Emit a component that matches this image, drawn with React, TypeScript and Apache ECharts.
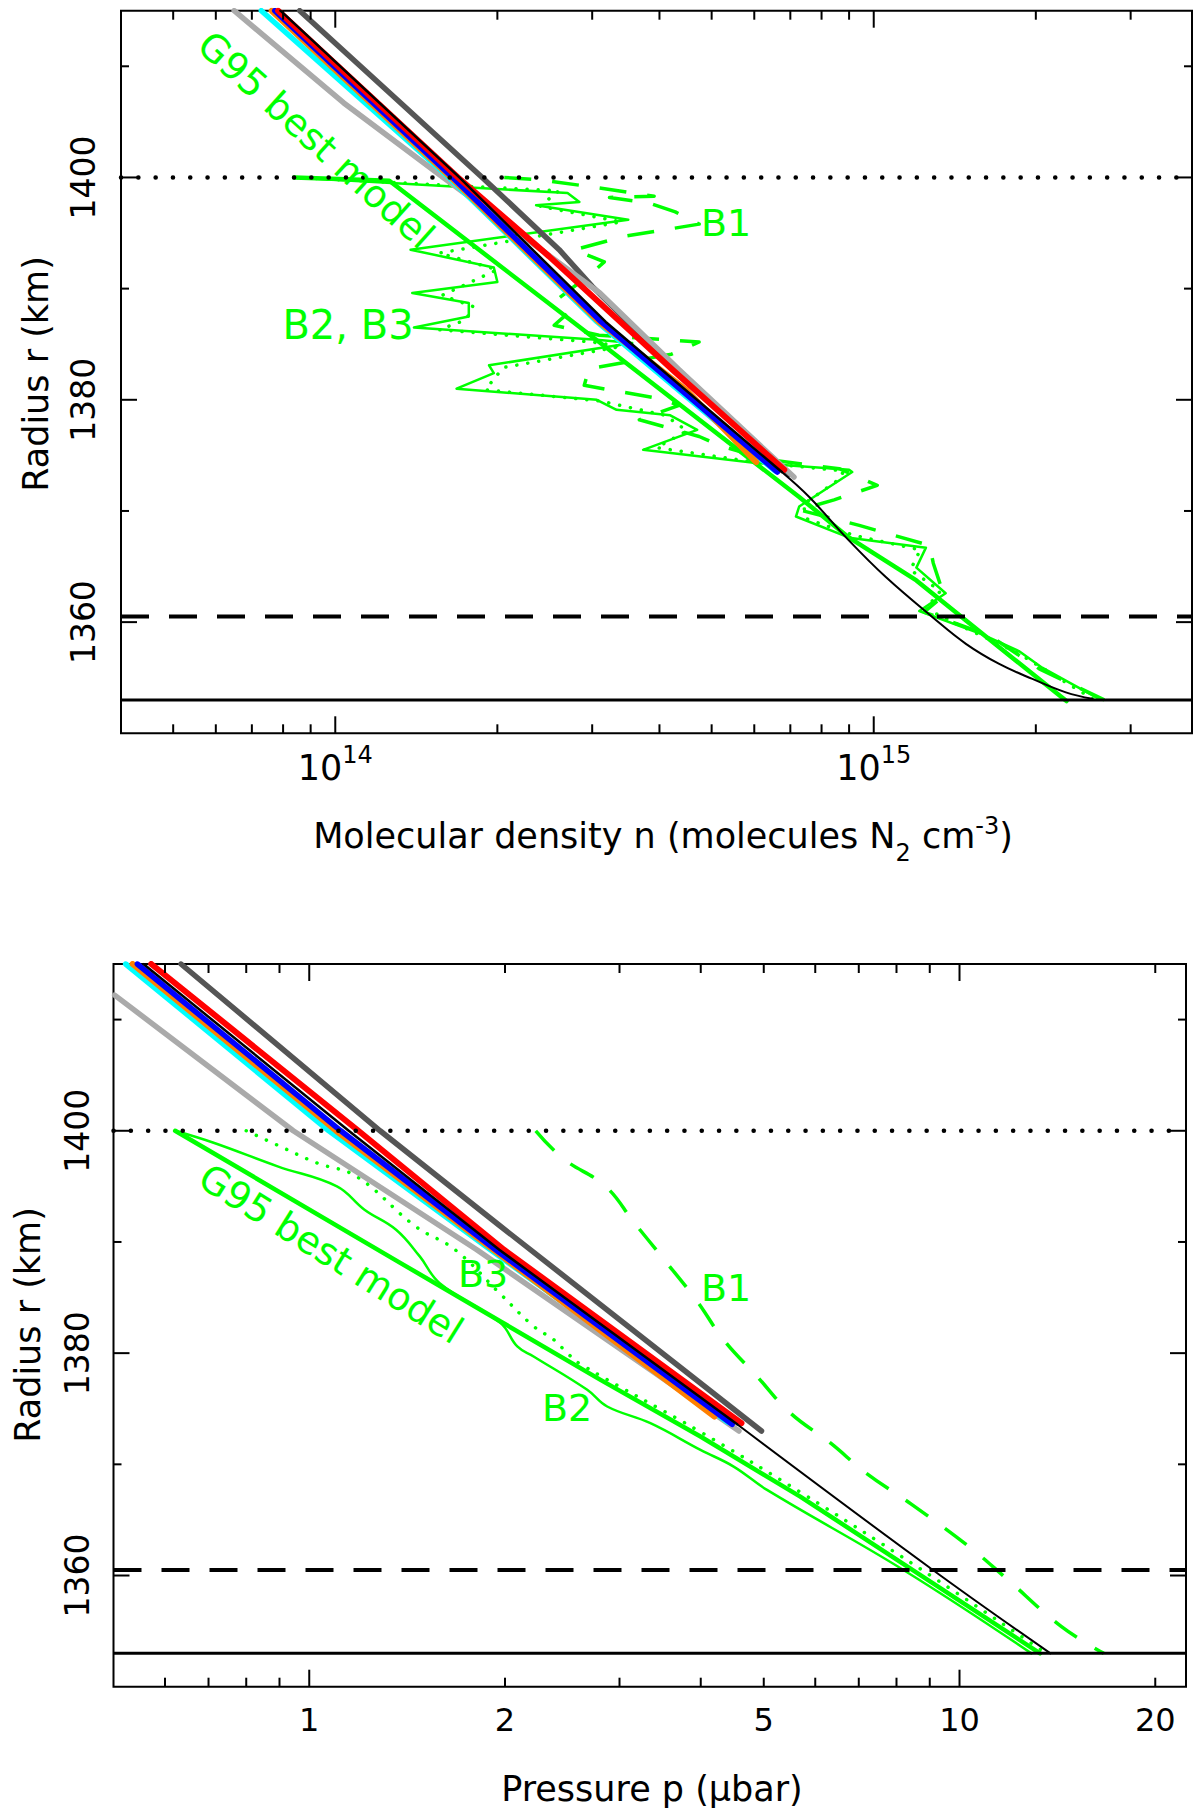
import { useEffect, useRef } from "react";
import * as echarts from "echarts";

const FONT = "DejaVu Sans";
const GREEN = "#00ff00";

// upper panel: molecular density n (molecules N2 cm^-3) against radius r (km)
const densityRange = [4e13, 3.9e15];
const densityMajorTicks = [1e14, 1e15];
const densityMinorTicks = [5e13, 6e13, 7e13, 8e13, 9e13, 2e14, 3e14, 4e14, 5e14, 6e14, 7e14, 8e14, 9e14, 2e15, 3e15];
const densityLabels = [1e14, 1e15];

// lower panel: pressure p (microbar) against radius r (km)
const pressureRange = [0.5, 22.3];
const pressureMajorTicks = [1, 10];
const pressureMinorTicks = [0.6, 0.7, 0.8, 0.9, 2, 3, 4, 5, 6, 7, 8, 9, 20];
const pressureLabels = [1, 2, 5, 10, 20];

const radiusRange = [1350, 1415];
const radiusMajorTicks = [1360, 1380, 1400];
const radiusMinorTicks = [1370, 1390, 1410];
const radiusLabels = [1360, 1380, 1400];

// horizontal reference levels (km)
const dottedLevel = 1400;
const dashedLevel = 1360.5;
const solidLevel = 1353;

// ---- model profiles, density [n, r]
const darkGrayN = [[8.59e13, 1415], [1.875e14, 1400], [2.605e14, 1393.5], [3.0e14, 1390.2], [4.3e14, 1382.7], [6.95e14, 1373.3]];
const lightGrayN = [[6.49e13, 1415], [1.037e14, 1406.7], [1.587e14, 1400], [3.1e14, 1389.6], [4.35e14, 1382.7], [7.11e14, 1373.05]];
const cyanN = [[7.29e13, 1415], [1.626e14, 1400], [3.065e14, 1387], [6.56e14, 1373.6]];
const orangeN = [[7.62e13, 1415], [1.64e14, 1400], [3.09e14, 1387], [4.48e14, 1380.9], [6.05e14, 1374.4]];
const blueN = [[7.72e13, 1415], [1.652e14, 1400], [3.12e14, 1387], [6.625e14, 1373.5]];
const redN = [[7.83e13, 1415], [1.69e14, 1400], [2.495e14, 1392.9], [4.23e14, 1382.7], [6.82e14, 1373.7]];
const blackN = [[7.91e13, 1415], [1.7e14, 1400], [3.18e14, 1387], [6.75e14, 1373.5]];
const blackLowN = [[6.75e14, 1373.5], [7.59e14, 1371.25], [8.99e14, 1367.35], [1.053e15, 1364.05], [1.286e15, 1360.44], [1.483e15, 1358.05], [1.71e15, 1356.24], [1.971e15, 1354.89], [2.274e15, 1353.68], [2.547e15, 1353.1]];

// ---- observed / G95 profiles, density [n, r]
const g95N = [[8.39e13, 1400], [1.26e14, 1399.7], [3.09e14, 1385.2], [7.27e14, 1371.25], [9.0e14, 1367.6], [1.2e15, 1363.75], [1.71e15, 1357.74], [2.28e15, 1352.9]];
const b2N = [
  [8.39e13, 1400], [2.7e14, 1398.6], [2.84e14, 1397.8], [2.36e14, 1397.5], [3.5e14, 1396.2], [1.38e14, 1393.5],
  [1.97e14, 1391.9], [2.0e14, 1390.6], [1.39e14, 1389.6], [1.77e14, 1388.7], [1.77e14, 1387.5], [1.4e14, 1386.5],
  [3.06e14, 1385.4], [3.56e14, 1385.1], [1.93e14, 1383.1], [1.97e14, 1382.4], [1.68e14, 1381.0], [3.06e14, 1380.0],
  [3.33e14, 1379.1], [4.19e14, 1378.6], [4.7e14, 1377.3], [3.73e14, 1375.5], [6.1e14, 1374.3], [9.0e14, 1373.7],
  [9.12e14, 1373.5], [7.27e14, 1370.4], [7.17e14, 1369.5], [9.0e14, 1367.6], [1.25e15, 1366.7], [1.2e15, 1364.9],
  [1.36e15, 1362.6], [1.215e15, 1361.0], [1.59e15, 1358.9], [1.86e15, 1357.4], [2.055e15, 1355.9], [2.62e15, 1353.1],
];
const b3N = [
  [8.39e13, 1400], [2.6e14, 1398.8], [2.4e14, 1397.4], [3.4e14, 1396.0], [1.56e14, 1393.2], [2.0e14, 1391.7],
  [1.58e14, 1389.4], [1.8e14, 1388.4], [1.75e14, 1387.2], [1.56e14, 1386.3], [3.0e14, 1385.2], [3.4e14, 1384.8],
  [2.05e14, 1382.9], [1.9e14, 1380.9], [3.1e14, 1379.9], [4.1e14, 1378.6], [4.5e14, 1377.2], [3.95e14, 1375.7],
  [6.0e14, 1374.4], [8.8e14, 1373.6], [8.6e14, 1372.8], [7.4e14, 1370.6], [7.5e14, 1369.3], [9.2e14, 1367.8],
  [1.22e15, 1366.5], [1.17e15, 1364.7], [1.33e15, 1362.8], [1.25e15, 1361.2], [1.55e15, 1359.0], [1.84e15, 1357.3],
  [2.1e15, 1355.6], [2.55e15, 1353.1],
];
const b1N = [
  [2.06e14, 1400], [2.39e14, 1399.8], [3.09e14, 1399.06], [3.91e14, 1398.3], [3.23e14, 1398.2], [3.83e14, 1397.7],
  [4.28e14, 1396.9], [4.74e14, 1395.8], [3.44e14, 1394.7], [2.78e14, 1393.5], [3.16e14, 1392.4], [2.96e14, 1391.2],
  [2.61e14, 1389.2], [2.72e14, 1387.9], [2.55e14, 1386.7], [3.09e14, 1385.8], [4.74e14, 1385.2], [4.21e14, 1384.1],
  [2.96e14, 1382.8], [2.9e14, 1381.3], [4.0e14, 1380.1], [4.35e14, 1379.5], [3.67e14, 1378.2], [4.74e14, 1376.7],
  [5.16e14, 1375.9], [6.39e14, 1374.6], [8.63e14, 1373.8], [1.015e15, 1372.3], [8.44e14, 1371.0], [7.27e14, 1370.1],
  [9.4e14, 1368.7], [1.27e15, 1366.9], [1.29e15, 1365.3], [1.35e15, 1362.4], [1.24e15, 1360.9], [1.64e15, 1358.8],
  [2.03e15, 1355.8], [2.68e15, 1353.0],
];

// ---- model profiles, pressure [p, r]
const darkGrayP = [[0.635, 1415], [1.285, 1400], [1.955, 1391.55], [4.96, 1373.0]];
const lightGrayP = [[0.502, 1412.2], [0.945, 1400], [1.81, 1389.3], [4.58, 1373.0]];
const cyanP = [[0.522, 1415], [1.072, 1400], [1.9, 1389.3], [4.4, 1373.8]];
const orangeP = [[0.535, 1415], [1.1, 1400], [1.92, 1389.3], [4.2, 1374.3]];
const blueP = [[0.544, 1415], [1.118, 1400], [1.935, 1389.3], [4.47, 1373.6]];
const redP = [[0.5715, 1415], [1.19, 1400], [1.993, 1389.3], [4.62, 1373.7]];
const blackP = [[0.556, 1415], [1.15, 1400], [1.96, 1389.3], [4.55, 1373.6]];
const blackLowP = [[4.55, 1373.6], [9.1, 1360.5], [13.8, 1353.0]];

// ---- observed / G95 profiles, pressure [p, r]
const g95P = [[0.622, 1400], [1.382, 1388.1], [1.969, 1382.85], [2.805, 1377.6], [3.996, 1372.5], [5.69, 1367.1], [13.3, 1353]];
const b2P = [
  [0.622, 1400], [0.7145, 1398.9], [0.894, 1396.8], [1.103, 1395.0], [1.216, 1392.9], [1.36, 1391.1], [1.479, 1388.7],
  [1.587, 1386.3], [1.969, 1382.7], [2.089, 1380.6], [2.213, 1379.7], [2.676, 1376.7], [2.872, 1375.2], [3.347, 1373.7],
  [3.996, 1371.3], [4.494, 1369.8], [5.058, 1367.7], [8.2, 1360.5], [12.9, 1353],
];
const b3P = [
  [0.8, 1400], [0.894, 1398.7], [1.028, 1397.1], [1.182, 1395.9], [1.457, 1391.4], [1.676, 1389.3], [1.969, 1385.3],
  [2.215, 1382.4], [2.378, 1381.2], [2.494, 1380.0], [2.614, 1379.0], [4.0, 1372.9], [5.69, 1367.5], [8.6, 1360.8], [13.6, 1353],
];
const b1P = [
  [2.23, 1400], [2.457, 1397.5], [2.855, 1395.0], [3.164, 1391.7], [3.532, 1388.25], [3.951, 1384.65], [4.337, 1381.2],
  [4.883, 1377.9], [5.497, 1374.6], [6.337, 1371.9], [7.187, 1369.2], [8.44, 1366.4], [10.34, 1362.6], [11.72, 1359.9],
  [14.35, 1355.4], [16.67, 1353.0],
];

const hiddenAxis = {
  axisLine: { show: false },
  axisTick: { show: false },
  axisLabel: { show: false },
  splitLine: { show: false },
};

const line = (idx: number, data: number[][], color: string, width: number, type: any = "solid", cap = "round", smooth: any = false) => ({
  type: "line",
  xAxisIndex: idx,
  yAxisIndex: idx,
  data,
  symbol: "none",
  silent: true,
  smooth,
  lineStyle: { color, width, type, cap, join: "round" },
});

const level = (idx: number, xr: number[], r: number, width: number, type: any, cap = "butt") =>
  line(idx, [[xr[0], r], [xr[1], r]], "#000", width, type, cap);

type FrameItem = { axis: "x" | "y"; v: number; len: number; label?: string };

function frameItems(xMajor: number[], xMinor: number[], xLabels: number[], xText: (v: number) => string): FrameItem[] {
  const items: FrameItem[] = [];
  xMajor.forEach((v) => items.push({ axis: "x", v, len: 17 }));
  xMinor.forEach((v) => items.push({ axis: "x", v, len: 9 }));
  xLabels.forEach((v) => items.push({ axis: "x", v, len: 0, label: xText(v) }));
  radiusMajorTicks.forEach((v) => items.push({ axis: "y", v, len: 16 }));
  radiusMinorTicks.forEach((v) => items.push({ axis: "y", v, len: 8 }));
  radiusLabels.forEach((v) => items.push({ axis: "y", v, len: 0, label: String(v) }));
  return items;
}

function frameSeries(idx: number, xr: number[], items: FrameItem[], xStyle: any, xGap: number, yGap: number) {
  const yr = radiusRange;
  const stroke = { stroke: "#000", lineWidth: 2 };
  const yStyle = { fontSize: 33, fontFamily: FONT, fill: "#000", align: "center", verticalAlign: "middle" };
  return {
    type: "custom",
    xAxisIndex: idx,
    yAxisIndex: idx,
    silent: true,
    clip: false,
    z: 10,
    data: items.map((t) => (t.axis === "x" ? [t.v, yr[0]] : [xr[0], t.v])),
    renderItem: (params: any, api: any) => {
      const t = items[params.dataIndex];
      const kids: any[] = [];
      if (t.axis === "x") {
        const [x, y0] = api.coord([t.v, yr[0]]);
        const y1 = api.coord([t.v, yr[1]])[1];
        if (t.len) {
          kids.push({ type: "line", shape: { x1: x, y1: y0, x2: x, y2: y0 - t.len }, style: stroke });
          kids.push({ type: "line", shape: { x1: x, y1: y1, x2: x, y2: y1 + t.len }, style: stroke });
        }
        if (t.label) kids.push({ type: "text", x, y: y0 + xGap, style: { ...xStyle, text: t.label } });
      } else {
        const [x0, y] = api.coord([xr[0], t.v]);
        const x1 = api.coord([xr[1], t.v])[0];
        if (t.len) {
          kids.push({ type: "line", shape: { x1: x0, y1: y, x2: x0 + t.len, y2: y }, style: stroke });
          kids.push({ type: "line", shape: { x1: x1, y1: y, x2: x1 - t.len, y2: y }, style: stroke });
        }
        if (t.label) kids.push({ type: "text", x: x0 - yGap, y, rotation: Math.PI / 2, style: { ...yStyle, text: t.label } });
      }
      return { type: "group", children: kids };
    },
  };
}

const label = (text: string, x: number, y: number, rotDeg = 0, size = 38) => ({
  type: "text",
  x,
  y,
  z: 100,
  rotation: (rotDeg * Math.PI) / 180,
  silent: true,
  style: { text, fontSize: size, fontFamily: FONT, fill: GREEN, align: "center", verticalAlign: "middle" },
});

const App = () => {
  const chartRef = useRef<HTMLDivElement>(null);

  useEffect(() => {
    document.body.style.margin = "0";
    if (!chartRef.current) return;
    const chart = echarts.init(chartRef.current, null, { renderer: "svg" });

    const topItems = frameItems(densityMajorTicks, densityMinorTicks, densityLabels, (v) => `10{s|${Math.round(Math.log10(v))}}`);
    const bottomItems = frameItems(pressureMajorTicks, pressureMinorTicks, pressureLabels, (v) => String(v));

    const topXStyle = {
      fontSize: 35,
      fontFamily: FONT,
      fill: "#000",
      lineHeight: 50,
      align: "center",
      verticalAlign: "middle",
      rich: { s: { fontSize: 24, fontFamily: FONT, fill: "#000", lineHeight: 24, verticalAlign: "top" } },
    };
    const bottomXStyle = { fontSize: 32, fontFamily: FONT, fill: "#000", align: "center", verticalAlign: "middle" };

    const models = (idx: number, d: any) => [
      line(idx, d.darkGray, "#555555", 5.5),
      line(idx, d.lightGray, "#aaaaaa", 5.5),
      line(idx, d.cyan, "#00ffff", 5.5),
      line(idx, d.orange, "#ff8000", 6),
      line(idx, d.blue, "#0000ff", 5.5),
      line(idx, d.red, "#ff0000", 6),
      line(idx, d.black, "#000000", 2.5),
      line(idx, d.blackLow, "#000000", 2, "solid", "round", 0.4),
    ];

    const panel = (idx: number, xr: number[], d: any, smooth: any) => [
      line(idx, d.b1, GREEN, 3.5, [27, 21], "butt", smooth),
      line(idx, d.b2, GREEN, 2.5, "solid", "round", smooth),
      line(idx, d.b3, GREEN, 3.5, [0.1, 11], "round", smooth),
      line(idx, d.g95, GREEN, 4.5),
      ...models(idx, d),
      level(idx, xr, dottedLevel, 4.5, [0.1, 17.2], "round"),
      level(idx, xr, dashedLevel, 4, [28, 20]),
      level(idx, xr, solidLevel, 3, "solid"),
    ];

    chart.setOption({
      animation: false,
      grid: [
        { left: 121, top: 10.7, width: 1071, height: 722.6, show: true, borderColor: "#000", borderWidth: 2 },
        { left: 113.5, top: 964, width: 1072.5, height: 722.7, show: true, borderColor: "#000", borderWidth: 2 },
      ],
      xAxis: [
        { type: "log", logBase: 10, gridIndex: 0, min: densityRange[0], max: densityRange[1], ...hiddenAxis },
        { type: "log", logBase: 10, gridIndex: 1, min: pressureRange[0], max: pressureRange[1], ...hiddenAxis },
      ],
      yAxis: [
        { type: "value", gridIndex: 0, min: radiusRange[0], max: radiusRange[1], ...hiddenAxis },
        { type: "value", gridIndex: 1, min: radiusRange[0], max: radiusRange[1], ...hiddenAxis },
      ],
      graphic: [
        {
          type: "text", x: 36, y: 374, z: 100, rotation: Math.PI / 2,
          style: { text: "Radius r (km)", fontSize: 35, fontFamily: FONT, fill: "#000", align: "center", verticalAlign: "middle" },
        },
        {
          type: "text", x: 28, y: 1325, z: 100, rotation: Math.PI / 2,
          style: { text: "Radius r (km)", fontSize: 35, fontFamily: FONT, fill: "#000", align: "center", verticalAlign: "middle" },
        },
        {
          type: "text", x: 663, y: 836, z: 100,
          style: {
            text: "Molecular density n (molecules N{sub|2} cm{sup|-3})",
            fontSize: 35, fontFamily: FONT, fill: "#000", lineHeight: 58, align: "center", verticalAlign: "middle",
            rich: {
              sub: { fontSize: 24, fontFamily: FONT, fill: "#000", lineHeight: 24, verticalAlign: "bottom" },
              sup: { fontSize: 24, fontFamily: FONT, fill: "#000", lineHeight: 24, verticalAlign: "top", padding: [7, 0, 0, 0] },
            },
          },
        },
        {
          type: "text", x: 652, y: 1789, z: 100,
          style: { text: "Pressure p (\u03bcbar)", fontSize: 35, fontFamily: FONT, fill: "#000", align: "center", verticalAlign: "middle" },
        },
        label("G95 best model", 316, 140, -42),
        label("B2, B3", 348, 325, 0, 40),
        label("B1", 726, 223),
        label("G95 best model", 331, 1254, -32),
        label("B3", 483, 1274),
        label("B1", 726, 1288),
        label("B2", 567, 1408),
      ],
      series: [
        ...panel(0, densityRange, {
          b1: b1N, b2: b2N, b3: b3N, g95: g95N,
          darkGray: darkGrayN, lightGray: lightGrayN, cyan: cyanN, orange: orangeN,
          blue: blueN, red: redN, black: blackN, blackLow: blackLowN,
        }, false),
        ...panel(1, pressureRange, {
          b1: b1P, b2: b2P, b3: b3P, g95: g95P,
          darkGray: darkGrayP, lightGray: lightGrayP, cyan: cyanP, orange: orangeP,
          blue: blueP, red: redP, black: blackP, blackLow: blackLowP,
        }, 0.4),
        frameSeries(0, densityRange, topItems, topXStyle, 34.5, 38),
        frameSeries(1, pressureRange, bottomItems, bottomXStyle, 33.7, 36),
      ],
    });

    return () => {
      chart.dispose();
    };
  }, []);

  return <div ref={chartRef} style={{ width: "1200px", height: "1816px" }}></div>;
};

export default App;
